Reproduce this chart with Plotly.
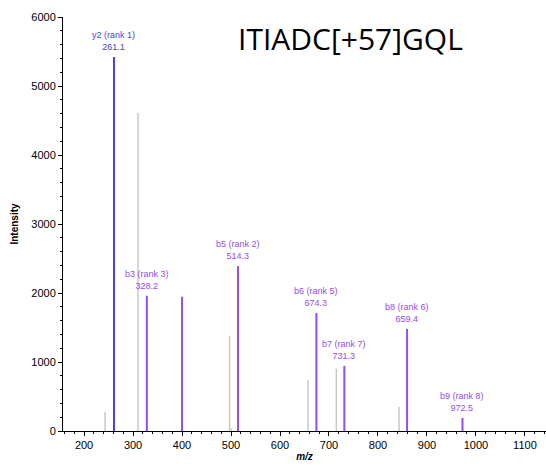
import plotly.graph_objects as go

# Unassigned (gray) peaks
gray_mz = [243, 310, 497, 500, 657, 715, 843]
gray_int = [275, 4610, 1380, 40, 740, 900, 350]

# Assigned peaks
y_mz = [261.1]
y_int = [5420]
y_labels = ["y2 (rank 1)<br>261.1"]

b_mz = [328.2, 400.0, 514.3, 674.3, 731.3, 859.4, 972.5]
b_int = [1960, 1945, 2390, 1710, 945, 1480, 190]
b_labels = ["b3 (rank 3)<br>328.2", "", "b5 (rank 2)<br>514.3",
            "b6 (rank 5)<br>674.3", "b7 (rank 7)<br>731.3",
            "b8 (rank 6)<br>659.4", "b9 (rank 8)<br>972.5"]

title_text = "ITIADC[+57]GQL"

GRAY = "rgb(200,200,200)"
BLUE = "rgb(75,65,220)"
PURPLE = "rgb(150,75,235)"


def sticks(mz, inten):
    xs, ys = [], []
    for m, h in zip(mz, inten):
        xs += [m, m, None]
        ys += [0, h, None]
    return xs, ys


fig = go.Figure()
gx, gy = sticks(gray_mz, gray_int)
fig.add_trace(go.Scatter(x=gx, y=gy, mode="lines", line=dict(color=GRAY, width=1.5),
                         hoverinfo="skip", showlegend=False))
yx, yy = sticks(y_mz, y_int)
fig.add_trace(go.Scatter(x=yx, y=yy, mode="lines", line=dict(color=BLUE, width=2),
                         hoverinfo="skip", showlegend=False))
bx, by = sticks(b_mz, b_int)
fig.add_trace(go.Scatter(x=bx, y=by, mode="lines", line=dict(color=PURPLE, width=2),
                         hoverinfo="skip", showlegend=False))

for m, h, t in zip(y_mz, y_int, y_labels):
    fig.add_annotation(x=m, y=h, text=t, showarrow=False, yanchor="bottom", yshift=3,
                       font=dict(family="Liberation Sans, Arial", size=9, color=BLUE))
for m, h, t in zip(b_mz, b_int, b_labels):
    if t:
        fig.add_annotation(x=m, y=h, text=t, showarrow=False, yanchor="bottom", yshift=3,
                           font=dict(family="Liberation Sans, Arial", size=9, color=PURPLE))

fig.add_annotation(xref="paper", yref="paper", x=0.596, y=0.947, text=title_text,
                   showarrow=False, xanchor="center", yanchor="middle",
                   font=dict(family="Open Sans, Noto Sans", size=30, color="black"))

fig.update_layout(
    width=546, height=470,
    margin=dict(l=63, r=0, t=17, b=39),
    plot_bgcolor="white", paper_bgcolor="white",
    font=dict(family="Liberation Sans, Arial", size=11, color="black"),
    xaxis=dict(range=[157, 1143], tickvals=[200, 300, 400, 500, 600, 700, 800, 900, 1000, 1100],
               showgrid=False, zeroline=False, showline=True, linecolor="black", linewidth=1,
               ticks="outside", ticklen=4, tickcolor="black",
               minor=dict(dtick=20, tick0=0, ticks="outside", ticklen=2, tickcolor="black"),
               title=dict(text="<b><i>m/z</i></b>", font=dict(size=10), standoff=2)),
    yaxis=dict(range=[0, 6000], tickvals=[0, 1000, 2000, 3000, 4000, 5000, 6000],
               showgrid=False, zeroline=False, showline=True, linecolor="black", linewidth=1,
               ticks="outside", ticklen=4, tickcolor="black",
               minor=dict(dtick=200, tick0=0, ticks="outside", ticklen=2, tickcolor="black"),
               title=dict(text="<b>Intensity</b>", font=dict(size=10), standoff=10)),
)

fig.write_html("out.html")
